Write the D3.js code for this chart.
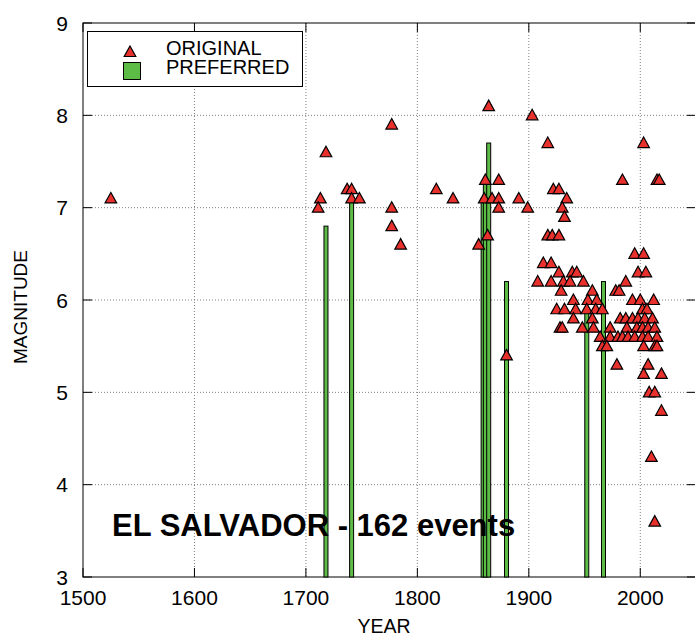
<!DOCTYPE html>
<html>
<head>
<meta charset="utf-8">
<script src="https://cdn.jsdelivr.net/npm/d3@7"></script>
<style>
  body { margin: 0; background: #fff; }
  text { font-family: "Liberation Sans", Arial, sans-serif; fill: #000; }
</style>
</head>
<body>
<div id="chart"></div>
<script>
///////////////////////////////////////////////////////////////////////////
// Datos
///////////////////////////////////////////////////////////////////////////
const yearTicks = [1500, 1600, 1700, 1800, 1900, 2000];
const magTicks = [3, 4, 5, 6, 7, 8, 9];

// [year, magnitude] - triangles (ORIGINAL)
const originalEvents = [
  [1525,7.1],[1718,7.6],[1713,7.1],[1711,7.0],[1737,7.2],[1741,7.2],[1741,7.1],[1748,7.1],
  [1777,7.9],[1777,7.0],[1777,6.8],[1785,6.6],[1817,7.2],[1832,7.1],
  [1864,8.1],[1861,7.3],[1873,7.3],[1860,7.1],[1867,7.1],[1873,7.1],[1873,7.0],[1891,7.1],[1899,7.0],
  [1863,6.7],[1855,6.6],[1880,5.4],
  [1903,8.0],[1917,7.7],[2003,7.7],[1984,7.3],[2015,7.3],[2017,7.3],
  [1922,7.2],[1927,7.2],[1934,7.1],[1930,7.0],[1932,6.9],
  [1917,6.7],[1921,6.7],[1927,6.7],[1913,6.4],[1920,6.4],
  [1995,6.5],[2003,6.5],[1998,6.3],[2005,6.3],
  [1908,6.2],[1927,6.3],[1939,6.3],[1943,6.3],[1920,6.2],[1931,6.2],[1937,6.2],[1949,6.2],[1987,6.2],
  [1929,6.1],[1957,6.1],[1978,6.1],[1981,6.1],
  [1940,6.0],[1953,6.0],[1961,6.0],[1993,6.0],[2000,6.0],[2012,6.0],
  [1925,5.9],[1942,5.9],[1932,5.9],[1952,5.9],[1960,5.9],[1966,5.9],[2002,5.9],[2006,5.9],
  [1940,5.8],[1957,5.8],[1982,5.8],[1987,5.8],[1993,5.8],[1998,5.8],[2004,5.8],[2011,5.8],
  [1928,5.7],[1930,5.7],[1948,5.7],[1958,5.7],[1973,5.7],[1988,5.7],[1997,5.7],[2002,5.7],[2007,5.7],[2013,5.7],
  [1964,5.6],[1973,5.6],[1980,5.6],[1984,5.6],[1989,5.6],[1995,5.6],[2002,5.6],[2007,5.6],[2015,5.6],
  [1966,5.5],[1970,5.5],[2003,5.5],[2013,5.5],[2015,5.5],
  [1979,5.3],[2007,5.3],[2003,5.2],[2019,5.2],[2008,5.0],[2013,5.0],[2019,4.8],[2010,4.3],[2013,3.6]
];

// [year, magnitude] - bars (PREFERRED)
const preferredEvents = [
  [1718,6.8],[1741,7.1],[1859,7.1],[1861,7.3],[1864,7.7],[1880,6.2],[1952,5.9],[1967,6.2]
];

///////////////////////////////////////////////////////////////////////////
// SVG
///////////////////////////////////////////////////////////////////////////
const W = 695, H = 636;
const pLeft = 83, pTop = 23, pRight = 696, pBottom = 577;
const red = "#e8302c", green = "#5cbc46";

const svg = d3.select("#chart").append("svg")
  .attr("width", W)
  .attr("height", H);

const x = d3.scaleLinear().domain([1500, 2050]).range([pLeft, pRight]);
const y = d3.scaleLinear().domain([3, 9]).range([pBottom, pTop]);

// grid
svg.append("g").selectAll("line").data(yearTicks.slice(1)).join("line")
  .attr("x1", d => x(d)).attr("x2", d => x(d))
  .attr("y1", pTop).attr("y2", pBottom)
  .attr("stroke", "#808080").attr("stroke-dasharray", "1,2");
svg.append("g").selectAll("line").data(magTicks.slice(1, -1)).join("line")
  .attr("x1", pLeft).attr("x2", pRight)
  .attr("y1", d => y(d)).attr("y2", d => y(d))
  .attr("stroke", "#808080").attr("stroke-dasharray", "1,2");

// ticks hacia dentro
const tl = 9;
yearTicks.forEach(d => {
  svg.append("line").attr("x1", x(d)).attr("x2", x(d)).attr("y1", pBottom).attr("y2", pBottom - tl).attr("stroke", "#000");
  svg.append("line").attr("x1", x(d)).attr("x2", x(d)).attr("y1", pTop).attr("y2", pTop + tl).attr("stroke", "#000");
});
magTicks.forEach(d => {
  svg.append("line").attr("x1", pLeft).attr("x2", pLeft + tl).attr("y1", y(d)).attr("y2", y(d)).attr("stroke", "#000");
  svg.append("line").attr("x1", pRight - tl).attr("x2", pRight).attr("y1", y(d)).attr("y2", y(d)).attr("stroke", "#000");
});

// marco
svg.append("rect")
  .attr("x", pLeft).attr("y", pTop)
  .attr("width", pRight - pLeft).attr("height", pBottom - pTop)
  .attr("fill", "none").attr("stroke", "#000");

// etiquetas de ticks
svg.append("g").selectAll("text").data(yearTicks).join("text")
  .attr("x", d => x(d)).attr("y", 605)
  .attr("text-anchor", "middle")
  .attr("font-size", "21px")
  .text(d => d);
svg.append("g").selectAll("text").data(magTicks).join("text")
  .attr("x", 68).attr("y", d => y(d) + 7.5)
  .attr("text-anchor", "end")
  .attr("font-size", "21px")
  .text(d => d);

// titulos de ejes
svg.append("text")
  .attr("x", 384).attr("y", 633)
  .attr("text-anchor", "middle")
  .attr("font-size", "19.5px")
  .text("YEAR");
svg.append("text")
  .attr("transform", "translate(27,307) rotate(-90)")
  .attr("text-anchor", "middle")
  .attr("font-size", "19px")
  .text("MAGNITUDE");

///////////////////////////////////////////////////////////////////////////
// Marcas
///////////////////////////////////////////////////////////////////////////
const tri = "M0,-6L5.8,4.5L-5.8,4.5Z";

svg.append("g").selectAll("rect").data(preferredEvents).join("rect")
  .attr("x", d => x(d[0]) - 2)
  .attr("y", d => y(d[1]))
  .attr("width", 4)
  .attr("height", d => pBottom - y(d[1]))
  .attr("fill", green)
  .attr("stroke", "#000")
  .attr("stroke-width", 1);

svg.append("g").selectAll("path").data(originalEvents).join("path")
  .attr("transform", d => `translate(${x(d[0])},${y(d[1])})`)
  .attr("d", tri)
  .attr("fill", red)
  .attr("stroke", "#000")
  .attr("stroke-width", 1.2);

///////////////////////////////////////////////////////////////////////////
// Leyenda
///////////////////////////////////////////////////////////////////////////
svg.append("rect")
  .attr("x", 87.5).attr("y", 31.5)
  .attr("width", 215).attr("height", 55)
  .attr("fill", "#fff").attr("stroke", "#000");
svg.append("path")
  .attr("transform", "translate(130,52)")
  .attr("d", tri)
  .attr("fill", red).attr("stroke", "#000").attr("stroke-width", 1.2);
svg.append("rect")
  .attr("x", 123.5).attr("y", 62.5)
  .attr("width", 17).attr("height", 17)
  .attr("fill", green).attr("stroke", "#000");
svg.append("text").attr("x", 166).attr("y", 55).attr("font-size", "20px").text("ORIGINAL");
svg.append("text").attr("x", 166).attr("y", 74).attr("font-size", "20px").text("PREFERRED");

// titulo dentro del grafico
svg.append("text")
  .attr("x", 112).attr("y", 536)
  .attr("font-size", "31px")
  .attr("font-weight", "bold")
  .text("EL SALVADOR - 162 events");
</script>
</body>
</html>
